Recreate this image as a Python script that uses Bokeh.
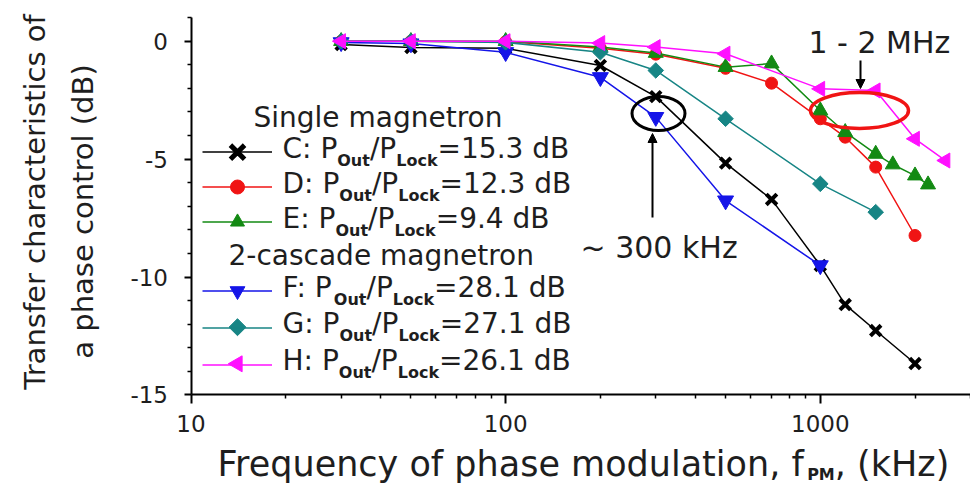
from math import pi
from bokeh.plotting import figure
from bokeh.models import (Range1d, Label, Legend, LegendItem, Arrow, NormalHead,
                          FixedTicker, BasicTickFormatter, LogAxis, LinearAxis)
from bokeh.core.properties import value
from bokeh.embed import file_html
from bokeh.resources import INLINE

# ---------------- data ----------------
c_freq = [30, 50, 100, 200, 300, 500, 700, 1000, 1200, 1500, 2000]
c_db = [-0.14, -0.27, -0.3, -1.03, -2.35, -5.17, -6.71, -9.51, -11.17, -12.27, -13.67]
d_freq = [30, 50, 100, 200, 300, 500, 700, 1000, 1200, 1500, 2000]
d_db = [0.0, 0.0, -0.02, -0.3, -0.55, -1.15, -1.78, -3.29, -4.07, -5.34, -8.24]
e_freq = [30, 50, 100, 200, 300, 500, 700, 1000, 1200, 1500, 1700, 2000, 2200]
e_db = [0.0, 0.0, 0.0, -0.25, -0.5, -1.1, -0.95, -2.94, -3.86, -4.78, -5.23, -5.7, -6.08]
f_freq = [30, 50, 100, 200, 300, 500, 1000]
f_db = [-0.05, -0.1, -0.47, -1.53, -3.22, -6.76, -9.51]
g_freq = [30, 50, 100, 200, 300, 500, 1000, 1500]
g_db = [0.0, 0.0, -0.05, -0.47, -1.24, -3.29, -6.05, -7.25]
h_freq = [30, 50, 100, 200, 300, 500, 1000, 1500, 2000, 2500]
h_db = [0.0, 0.0, 0.0, -0.08, -0.25, -0.53, -2.02, -2.09, -4.14, -5.06]

series_letters = ["C", "D", "E", "F", "G", "H"]
series_ratios = ["15.3", "12.3", "9.4", "28.1", "27.1", "26.1"]
group_titles = ["Single magnetron", "2-cascade magnetron"]
x_title = ["Frequency of phase modulation, f", "PM", ", (kHz)"]
y_title = ["Transfer characteristics of", "a phase control (dB)"]
x_major = [10, 100, 1000]
x_minor = [20, 30, 40, 50, 60, 70, 80, 90, 200, 300, 400, 500, 600, 700, 800, 900, 2000, 3000]
y_major = [-15, -10, -5, 0]
y_minor = [-14, -13, -12, -11, -9, -8, -7, -6, -4, -3, -2, -1, 1]
x_lim = (10, 3000)
y_lim = (-15, 1)

# ---------------- layout geometry (canvas pixels) ----------------
CW, CH = 970, 485
AX_LEFT = 190.5      # pixel of x = 10
DEC = 314.65         # pixels per decade
Y0 = 40.7            # pixel of y = 0
YPU = 23.58          # pixels per dB
MID = 0.35           # baseline -> text middle, in em


def px2x(px):
    return 10 ** (1 + (px - AX_LEFT) / DEC)


def py2y(py):
    return -(py - Y0) / YPU


FONT = "DejaVu Sans"
TEXT = "#1e1e1e"
W = {' ': 318, ',': 318, '-': 361, '.': 318, '/': 337, ':': 337, '=': 838, '~': 838,
     '(': 390, ')': 390, 'A': 684, 'B': 686, 'C': 698, 'D': 770, 'E': 632, 'F': 575,
     'G': 775, 'H': 752, 'L': 557, 'M': 863, 'O': 787, 'P': 603, 'S': 635, 'T': 611,
     'a': 613, 'c': 550, 'd': 635, 'e': 615, 'f': 352, 'g': 635, 'h': 634, 'i': 278,
     'k': 579, 'l': 278, 'm': 974, 'n': 634, 'o': 612, 'p': 635, 'q': 635, 'r': 411,
     's': 521, 't': 392, 'u': 634, 'y': 592, 'z': 525}
for dch in "0123456789":
    W[dch] = 636
WB = {' ': 348, 'O': 850, 'u': 712, 't': 478, 'L': 637, 'o': 687, 'c': 593, 'k': 665,
      'P': 733, 'M': 995}


def tw(s, size, bold=False):
    tbl = WB if bold else W
    return sum(tbl.get(ch, W.get(ch, 600)) for ch in s) * size / 1000.0


p = figure(width=CW, height=CH, x_axis_type="log",
           x_range=Range1d(px2x(0), px2x(CW)), y_range=Range1d(py2y(CH), py2y(0)),
           x_axis_location=None, y_axis_location=None,
           output_backend="svg", toolbar_location=None,
           min_border=0, min_border_left=0, min_border_right=0,
           min_border_top=0, min_border_bottom=0)
p.outline_line_color = None
p.grid.visible = False
p.background_fill_color = "white"
p.border_fill_color = "white"

xax = LogAxis(fixed_location=y_lim[0], bounds=x_lim,
              ticker=FixedTicker(ticks=x_major, minor_ticks=x_minor),
              formatter=BasicTickFormatter())
yax = LinearAxis(fixed_location=x_lim[0], bounds=y_lim,
                 ticker=FixedTicker(ticks=y_major, minor_ticks=y_minor),
                 major_label_overrides={v: str(v) for v in y_major})
p.add_layout(xax, "below")
p.add_layout(yax, "left")
for ax in (xax, yax):
    ax.axis_line_width = 2
    ax.axis_line_color = "black"
    ax.major_tick_line_width = 2
    ax.minor_tick_line_width = 1.5
    ax.major_tick_in = 0
    ax.minor_tick_in = 0
    ax.major_label_text_font = FONT
    ax.major_label_text_font_size = "23px"
    ax.major_label_text_color = TEXT
xax.major_tick_out = 9
xax.minor_tick_out = 4
xax.major_label_standoff = 11
yax.major_tick_out = 7
yax.minor_tick_out = 4
yax.major_label_standoff = 16

specs = [
    (c_freq, c_db, "black", "x", 15, 0.0),
    (d_freq, d_db, "#f01414", "circle", 12, 0.0),
    (e_freq, e_db, "#138a13", "triangle", 15, 0.0),
    (f_freq, f_db, "#1515e8", "inverted_triangle", 16, 0.0),
    (g_freq, g_db, "#178585", "square", 11, pi / 4),
    (h_freq, h_db, "#ff10ff", "triangle", 15, pi / 2),
]
# legend sample markers drawn by hand (bigger X, rotated shapes)
own_legend_marker = {0: (20, 5), 4: (12, 1), 5: (16, 1)}

pairs = []
for i, (fr, db, col, mk, sz, ang) in enumerate(specs):
    ln = p.line(fr, db, line_color=col, line_width=1.5)
    sc = p.scatter(fr, db, marker=mk, size=sz, angle=ang, fill_color=col,
                   line_color=col, line_width=4 if mk == "x" else 1)
    pairs.append([ln] if i in own_legend_marker else [ln, sc])

# legend rows (centre of sample glyph, canvas px)
GX0, GW = 202, 70
row_center = [151.7, 186.7, 221.7, 290, 326.7, 363.3]


def legend(items, bottom, h):
    lg = Legend(items=[LegendItem(label=value(" "), renderers=r) for r in items],
                location=(GX0, CH - bottom), orientation="vertical",
                glyph_width=GW, glyph_height=h, label_height=h, label_width=1,
                label_standoff=0, padding=0, spacing=0, margin=0,
                border_line_alpha=0, background_fill_alpha=0,
                label_text_font_size="1px")
    p.add_layout(lg)


legend(pairs[:3], 239.2, 35)
legend(pairs[3:], 382.5, 37)

for i, (sz, lw) in own_legend_marker.items():
    fr, db, col, mk, _, ang = specs[i]
    p.scatter([px2x(GX0 + GW / 2)], [py2y(row_center[i])], marker=mk,
              size=sz, angle=ang, fill_color=col, line_color=col, line_width=lw)


def label(px, py, text, size, bold=False, rotated=False, align="left"):
    """px, py: canvas position of the text baseline (start or centre)."""
    if rotated:
        x, y, ang = px - MID * size, CH - py, pi / 2
    else:
        x, y, ang = px, CH - (py - MID * size), 0.0
    p.add_layout(Label(x=x, y=y, x_units="screen", y_units="screen",
                       text=text, text_font=FONT, text_font_size=f"{size}px",
                       text_font_style="bold" if bold else "normal",
                       text_color=TEXT, angle=ang, text_align=align,
                       text_baseline="middle"))


def rich(px, py, parts, size, sub_size, sub_drop):
    x = px
    for t, is_sub in parts:
        if is_sub:
            label(x, py + sub_drop, t, sub_size, bold=True)
            x += tw(t, sub_size, True)
        else:
            label(x, py, t, size)
            x += tw(t, size)


# legend texts
label(253, 127, group_titles[0], 28)
label(228, 265, group_titles[1], 28)
row_base = [158, 193, 228, 296.5, 333, 370]
for letter, ratio, yb in zip(series_letters, series_ratios, row_base):
    rich(282, yb, [(f"{letter}: P", False), ("Out", True), ("/P", False),
                   ("Lock", True), (f"={ratio} dB", False)], 28, 16, 8)

# axis titles
rich(217, 476, [(x_title[0], False), (x_title[1], True), (x_title[2], False)], 35, 16, 4)
label(45, 201.5, y_title[0], 29, rotated=True, align="center")
label(93, 211, y_title[1], 29, rotated=True, align="center")

# annotations
label(808, 52, "1 - 2 MHz", 30)
label(580, 257, "~ 300 kHz", 30)
head = dict(size=9, fill_color="black", line_color="black")
p.add_layout(Arrow(x_start=860, y_start=CH - 60, x_end=860, y_end=CH - 88,
                   start_units="screen", end_units="screen", line_width=2,
                   line_color="black", end=NormalHead(**head)))
p.add_layout(Arrow(x_start=652, y_start=CH - 217, x_end=652, y_end=CH - 133,
                   start_units="screen", end_units="screen", line_width=2,
                   line_color="black", end=NormalHead(**head)))
p.ellipse(x=[px2x(859)], y=[py2y(110)], width=98, height=36, width_units="screen",
          height_units="screen", fill_color=None, line_color="#f01414", line_width=3.5)
p.ellipse(x=[px2x(658)], y=[py2y(113)], width=53, height=34, width_units="screen",
          height_units="screen", fill_color=None, line_color="black", line_width=3)

open("out.html", "w").write(file_html(p, INLINE))
